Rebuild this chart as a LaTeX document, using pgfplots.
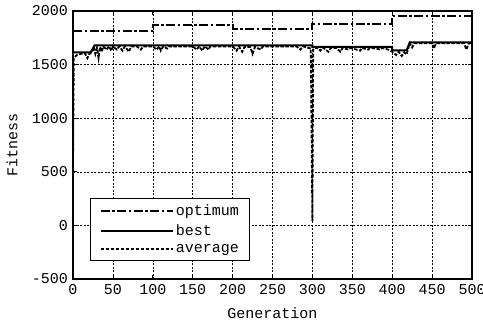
\documentclass[border=0pt]{standalone}
\usepackage{pgfplots}
\pgfplotsset{compat=1.18}
\usepackage{fontspec}
\setmainfont{Liberation Mono}
\begin{document}
\fontsize{15}{17}\selectfont
\begin{tikzpicture}
\begin{axis}[
  scale only axis,
  width=399pt, height=268pt,
  xmin=0, xmax=500, ymin=-500, ymax=2000,
  xtick={0,50,...,500}, ytick={-500,0,500,1000,1500,2000},
  grid=major,
  grid style={black, dash pattern=on 2pt off 1.5pt, line width=0.5pt},
  axis line style={black, line width=1.2pt},
  tick style={black, line width=0.8pt},
  tick align=inside,
  /pgf/number format/assume math mode=true,
  /pgf/number format/1000 sep={},
  ticklabel style={font=\fontsize{15}{17}\selectfont},
  label style={font=\fontsize{15}{17}\selectfont},
  xlabel={Generation}, ylabel={Fitness},
  xlabel style={yshift=-3pt},
  ylabel style={yshift=4pt},
  legend style={at={(0.043,0.067)}, anchor=south west, draw=black, line width=1.2pt,
    font=\fontsize{15}{17}\selectfont, row sep=2.5pt, inner xsep=9pt, inner ysep=4pt},
  legend cell align=left,
  legend image code/.code={\draw[#1] (0pt,0pt) -- (55pt,0pt); \path (0pt,0pt) -- (72pt,0pt);},
]
\addplot[black, line width=2.1pt, dash pattern=on 9pt off 2.5pt on 2.5pt off 2.5pt] coordinates {
(0,1812) (100,1812) (100,1866) (200,1866) (200,1834) (300,1834) (300,1881) (400,1881) (400,1952) (500,1952)};
\addlegendentry{optimum}
\addplot[black, line width=2pt] coordinates {
(0,1614) (22,1614) (25,1650) (27,1679) (300,1679) (300,1665) (400,1665) (400,1632) (418,1632) (422,1707) (500,1707)};
\addlegendentry{best}
\addplot[black, line width=1.8pt, dash pattern=on 3.5pt off 1.5pt] coordinates {
(0,550) (1,1560) (5,1590) (10,1600) (15,1605) (18,1560) (20,1595) (24,1620) (26,1665) (28,1600) (30,1655) (32,1560) (34,1665) (36,1620) (38,1670) (42,1640) (45,1670) (48,1630) (50,1670) (55,1640) (58,1670) (62,1630) (65,1670) (70,1620) (73,1670) (80,1670) (85,1640) (88,1670) (100,1670) (105,1640) (108,1670) (110,1630) (113,1670) (118,1650) (120,1670) (150,1670) (155,1640) (158,1670) (162,1630) (165,1670) (170,1640) (172,1670) (200,1670) (205,1630) (208,1670) (212,1620) (215,1665) (222,1665) (225,1600) (228,1665) (235,1640) (238,1670) (280,1670) (285,1640) (288,1670) (298,1650) (300,40) (301,1640) (305,1660) (310,1630) (313,1660) (320,1620) (323,1655) (330,1655) (335,1620) (338,1655) (345,1640) (348,1655) (360,1630) (362,1655) (370,1640) (372,1655) (380,1650) (385,1640) (388,1655) (395,1640) (400,1620) (405,1590) (408,1620) (412,1580) (415,1615) (418,1595) (422,1700) (425,1660) (428,1700) (450,1700) (452,1650) (455,1700) (490,1700) (493,1640) (496,1700) (500,1700)};
\addlegendentry{average}
\coordinate (sw) at (rel axis cs:0,0);
\coordinate (ne) at (rel axis cs:1,1);
\end{axis}
\pgfresetboundingbox
\path[use as bounding box] ([shift={(-73pt,-45pt)}]sw) rectangle ([shift={(11pt,11pt)}]ne);
\end{tikzpicture}
\end{document}
